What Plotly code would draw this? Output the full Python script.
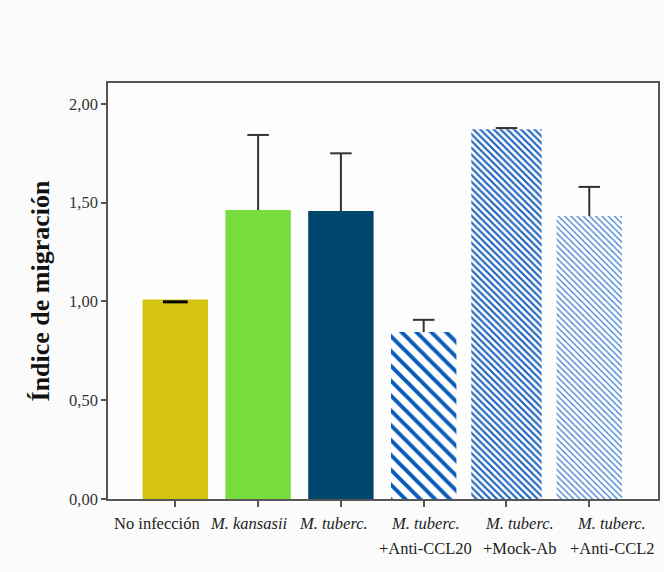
import plotly.graph_objects as go

# Migration index per condition (mean and error)
label_line1 = [
    "No infección",
    "<i>M. kansasii</i>",
    "<i>M. tuberc.</i>",
    "<i>M. tuberc.</i>",
    "<i>M. tuberc.</i>",
    "<i>M. tuberc.</i>",
]
label_line2 = ["", "", "", "+Anti-CCL20", "+Mock-Ab", "+Anti-CCL2"]
values = [1.01, 1.463, 1.458, 0.845, 1.872, 1.433]
err_up = [0.0, 0.38, 0.292, 0.062, 0.006, 0.147]
err_down = [0.012, 0.0, 0.0, 0.0, 0.0, 0.0]

y_ticks = [0, 0.5, 1.0, 1.5, 2.0]

fill_colors = ["#d5c40f", "#77dd3f", "#00476e", "white", "white", "white"]
pattern_shapes = ["", "", "", "\\", "\\", "\\"]
pattern_fg = ["#000", "#000", "#000", "#0a5cb8", "#1a63bd", "#3f80cc"]
pattern_size = [10, 10, 10, 10.5, 4.8, 4.4]
pattern_solid = [0.3, 0.3, 0.3, 0.38, 0.45, 0.3]
bar_widths = [0.79, 0.79, 0.79, 0.79, 0.85, 0.79]

# category labels are spread a little wider than the bars
label_x = [-0.22, 0.886, 1.91, 3.02, 4.16, 5.27]

xs = list(range(len(values)))
cap_half = 0.13

fig = go.Figure()

for i in xs:
    fig.add_trace(go.Bar(
        x=[i], y=[values[i]], width=[bar_widths[i]],
        marker=dict(
            color=fill_colors[i],
            line=dict(width=0),
            pattern=dict(
                shape=pattern_shapes[i],
                fgcolor=pattern_fg[i],
                fgopacity=1,
                bgcolor="white",
                size=pattern_size[i],
                solidity=pattern_solid[i],
                fillmode="replace",
            ),
        ),
        showlegend=False,
        hoverinfo="skip",
    ))

# Error whiskers: stem from the bar top plus a single cap at the end
for i in xs:
    lo = values[i] - err_down[i]
    hi = values[i] + err_up[i]
    if err_up[i] > 0:
        fig.add_trace(go.Scatter(
            x=[i, i, None, i - cap_half, i + cap_half],
            y=[values[i], hi, None, hi, hi],
            mode="lines", line=dict(color="#333333", width=2),
            showlegend=False, hoverinfo="skip",
        ))
    if err_down[i] > 0:
        fig.add_trace(go.Scatter(
            x=[i - cap_half * 1.15, i + cap_half * 1.15],
            y=[lo, lo],
            mode="lines", line=dict(color="#000000", width=3),
            showlegend=False, hoverinfo="skip",
        ))

serif = "Liberation Serif, Times New Roman, serif"
label_font = dict(family=serif, size=16.5, color="#222")

annotations = []
for i in xs:
    for text, shift in ((label_line1[i], -24), (label_line2[i], -49)):
        if text:
            annotations.append(dict(
                x=label_x[i], xref="x", y=0, yref="paper",
                yshift=shift, yanchor="middle", xanchor="center",
                text=text, showarrow=False, font=label_font,
            ))

fig.update_layout(
    width=664, height=572,
    margin=dict(l=108, r=4, t=83, b=73),
    paper_bgcolor="#fbfbfb",
    plot_bgcolor="#fdfdfd",
    font=dict(family=serif, size=16, color="#222"),
    separators=",.",
    annotations=annotations,
    xaxis=dict(
        range=[-0.813, 5.83],
        tickmode="array", tickvals=xs, showticklabels=False,
        showline=True, linecolor="#555", linewidth=1.5, mirror=True,
        ticks="outside", ticklen=6, tickcolor="#555", tickwidth=1.5,
        showgrid=False, zeroline=False,
    ),
    yaxis=dict(
        range=[0, 2.106],
        tickmode="array", tickvals=y_ticks, tickformat=".2f",
        showline=True, linecolor="#555", linewidth=1.5, mirror=True,
        ticks="outside", ticklen=5, tickcolor="#555", tickwidth=1.5,
        showgrid=False, zeroline=False,
        tickfont=dict(family=serif, size=16.5, color="#333"),
        title=dict(
            text="<b>Índice de migración</b>",
            font=dict(family=serif, size=26, color="#111"),
            standoff=12,
        ),
    ),
)

fig.write_html("out.html")
